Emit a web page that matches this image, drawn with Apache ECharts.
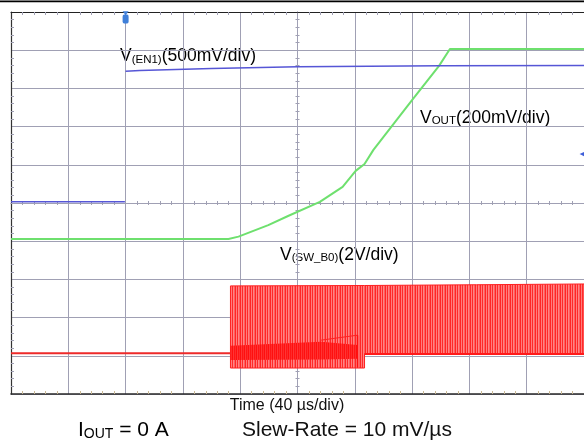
<!DOCTYPE html>
<html><head><meta charset="utf-8">
<script src="https://cdn.jsdelivr.net/npm/echarts@6/dist/echarts.min.js"></script>
<style>html,body{margin:0;padding:0;background:#fff}#c{width:584px;height:445px}</style>
</head><body><div id="c"></div>
<script>
// Horizontal: time in µs (40 µs/div, 0 = screen centre). Vertical: screen divisions (0 = centre).
const enPreTime = [-200, -120.5];
const enPreDiv  = [0.03, 0.03];
const enTime = [-120, -110, -60, 0, 100, 200];
const enDiv  = [3.45, 3.47, 3.52, 3.57, 3.59, 3.60];

const voutTime = [-200, -48.2, -41.2, -20.4, -6.6, 15.6, 31.5, 40.6, 46.8, 53.0, 80.1, 98.8, 106.4, 200];
const voutDiv  = [-0.94, -0.94, -0.88, -0.58, -0.34, 0.03, 0.42, 0.84, 1.02, 1.39, 2.70, 3.59, 4.03, 4.03];

const swIdleTime = [-200, -46.8];
const swIdleDiv  = [-3.93, -3.93];
const swBlockTime   = [-46.8, 46.8, 46.8, 125, 200];
const swBlockTop    = [-2.17, -2.16, -2.16, -2.14, -2.12];
const swBlockBottom = [-4.32, -4.32, -3.95, -3.95, -3.95];
const swDenseTime   = [-46.8, 16.5, 41.9];
const swDenseTop    = [-3.74, -3.63, -3.72];
const swDenseBottom = [-4.11, -4.10, -4.08];
const swRampTime = [16.5, 41.9];
const swRampDiv  = [-3.59, -3.46];
const swSpikeTime = [41.9, 41.9];
const swSpikeDiv  = [-3.46, -4.30];
const swLowEdgeTime = [46.8, 200];
const swLowEdgeDiv  = [-3.95, -3.95];

const triggerTime = -120, triggerDiv = 4.82, triggerTipDiv = 4.97;
const chMarkTime = 199, chMarkDiv = 1.28;

const labelEN = ['V', '(EN1)', '(500mV/div)'];
const labelOUT = ['V', 'OUT', '(200mV/div)'];
const labelSW = ['V', '(SW_B0)', '(2V/div)'];
const labelTime = 'Time (40 µs/div)';
const labelIout = ['I', 'OUT', ' = 0 A'];
const labelSlew = 'Slew-Rate = 10 mV/µs';

const FONT = 'Liberation Sans, Arial, sans-serif';
const pairs = (t, v) => t.map((x, i) => [x, v[i]]);

function stripes(cols) {
  const c = document.createElement('canvas');
  c.width = cols.length; c.height = 4;
  const g = c.getContext('2d');
  cols.forEach((col, i) => { g.fillStyle = col; g.fillRect(i, 0, 1, 4); });
  return { image: c, repeat: 'repeat' };
}
const lightStripes = stripes(['#ff2626', '#ff7d7d', '#ff2a2a', '#ff8585', '#ff6060']);
const denseStripes = stripes(['#ff0f0f', '#ff3535', '#ff1515', '#ff2a2a']);

function band(times, tops, bots, fill, stroke) {
  return {
    type: 'custom', xAxisIndex: 0, yAxisIndex: 0, silent: true, data: [[0, 0]],
    renderItem: function (params, api) {
      const pts = [];
      for (let i = 0; i < times.length; i++) pts.push(api.coord([times[i], tops[i]]));
      for (let i = times.length - 1; i >= 0; i--) pts.push(api.coord([times[i], bots[i]]));
      return { type: 'polygon', shape: { points: pts }, style: { fill: fill, stroke: stroke, lineWidth: stroke ? 1 : 0 } };
    }
  };
}
function line(data, color, width, extra) {
  return Object.assign({ type: 'line', xAxisIndex: 0, yAxisIndex: 0, data: data, showSymbol: false, symbol: 'none',
    silent: true, lineStyle: { color: color, width: width }, itemStyle: { color: color } }, extra || {});
}

const GRID = '#a0a0b4';
const borderX = (pos, color, width, tickColor) => ({
  type: 'value', min: -200, max: 200, interval: 40, position: pos,
  axisLine: { show: true, onZero: false, lineStyle: { color: color, width: width } },
  axisTick: { show: false, inside: true }, axisLabel: { show: false },
  minorTick: { show: true, splitNumber: 5, length: 3, lineStyle: { color: tickColor, width: 1 } },
  splitLine: { show: false }
});
const centerX = (inside) => ({
  type: 'value', min: -200, max: 200, interval: 40, position: 'bottom',
  axisLine: { show: true, onZero: true, onZeroAxisIndex: 0, lineStyle: { color: GRID, width: 1 } },
  axisTick: { show: false, inside: inside }, axisLabel: { show: false },
  minorTick: { show: true, splitNumber: 5, length: 2, lineStyle: { color: GRID, width: 1 } },
  splitLine: { show: false }
});
const borderY = (color) => ({
  type: 'value', min: -5, max: 5, interval: 1, position: 'left',
  axisLine: { show: true, onZero: false, lineStyle: { color: color, width: 1.2 } },
  axisTick: { show: false, inside: true }, axisLabel: { show: false },
  minorTick: { show: true, splitNumber: 5, length: 3, lineStyle: { color: GRID, width: 1 } },
  splitLine: { show: false }
});
const centerY = (inside) => ({
  type: 'value', min: -5, max: 5, interval: 1, position: 'left',
  axisLine: { show: true, onZero: true, onZeroAxisIndex: 0, lineStyle: { color: GRID, width: 1 } },
  axisTick: { show: false, inside: inside }, axisLabel: { show: false },
  minorTick: { show: true, splitNumber: 5, length: 2, lineStyle: { color: GRID, width: 1 } },
  splitLine: { show: false }
});

const xMain = borderX('bottom', '#2a2a2a', 1.6, '#c9b894');
xMain.splitLine = { show: true, lineStyle: { color: GRID, width: 1 } };
const yMain = borderY('#333');
yMain.splitLine = { show: true, lineStyle: { color: GRID, width: 1 } };

const rich = (fs, sfs, pad) => ({
  m: { fontSize: fs, fontFamily: FONT, color: '#111' },
  s: { fontSize: sfs, fontFamily: FONT, color: '#111', padding: [pad, 0, 0, 0] }
});
const subText = (parts) => '{m|' + parts[0] + '}{s|' + parts[1] + '}{m|' + parts[2] + '}';

const chart = echarts.init(document.getElementById('c'), null, { renderer: 'canvas' });
chart.setOption({
  animation: false,
  backgroundColor: '#fff',
  grid: { left: 11, top: 12, width: 577, height: 382, show: false },
  xAxis: [xMain, borderX('top', '#222', 1, GRID), centerX(true), centerX(false)],
  yAxis: [yMain, centerY(true), centerY(false)],
  series: [
    band(swBlockTime, swBlockTop, swBlockBottom, lightStripes, '#ff2020'),
    band(swDenseTime, swDenseTop, swDenseBottom, denseStripes, null),
    line(pairs(swRampTime, swRampDiv), '#ff2020', 1),
    line(pairs(swSpikeTime, swSpikeDiv), '#ff1010', 1.5),
    line(pairs(swLowEdgeTime, swLowEdgeDiv), '#ff1a1a', 2),
    line(pairs(swIdleTime, swIdleDiv), '#ee2a2a', 2),
    line(pairs(voutTime, voutDiv), '#6ee06e', 2),
    line(pairs(enPreTime, enPreDiv), '#5656d6', 1.5),
    line(pairs(enTime, enDiv), '#5656d6', 1.5, {
      markPoint: {
        silent: true, label: { show: false },
        data: [
          { coord: [triggerTime, triggerDiv], symbol: 'roundRect', symbolSize: [6, 9], itemStyle: { color: '#3f7fd9' } },
          { coord: [triggerTime, triggerTipDiv], symbol: 'triangle', symbolSize: [6, 4], symbolRotate: 180, itemStyle: { color: '#3f7fd9' } },
          { coord: [chMarkTime, chMarkDiv], symbol: 'triangle', symbolSize: [6, 6], symbolRotate: 90, itemStyle: { color: '#3f5fd9' } }
        ]
      }
    })
  ],
  graphic: [
    { type: 'rect', silent: true, shape: { x: 0, y: 0.6, width: 584, height: 1.6 }, style: { fill: '#000' } },
    { type: 'text', silent: true, x: 120, y: 56.6, style: { text: subText(labelEN), rich: rich(17.5, 11.5, 6), verticalAlign: 'middle', align: 'left' } },
    { type: 'text', silent: true, x: 420, y: 117.8, style: { text: subText(labelOUT), rich: rich(17.5, 11.5, 6), verticalAlign: 'middle', align: 'left' } },
    { type: 'text', silent: true, x: 280, y: 254.8, style: { text: subText(labelSW), rich: rich(17.5, 11.5, 6), verticalAlign: 'middle', align: 'left' } },
    { type: 'text', silent: true, x: 287, y: 405.2, style: { text: labelTime, font: '16px ' + FONT, fill: '#111', verticalAlign: 'middle', align: 'center' } },
    { type: 'text', silent: true, x: 78, y: 430.7, style: { text: subText(labelIout), rich: rich(21, 14, 7), verticalAlign: 'middle', align: 'left' } },
    { type: 'text', silent: true, x: 242, y: 430.7, style: { text: labelSlew, font: '21px ' + FONT, fill: '#111', verticalAlign: 'middle', align: 'left' } }
  ]
});
</script></body></html>
